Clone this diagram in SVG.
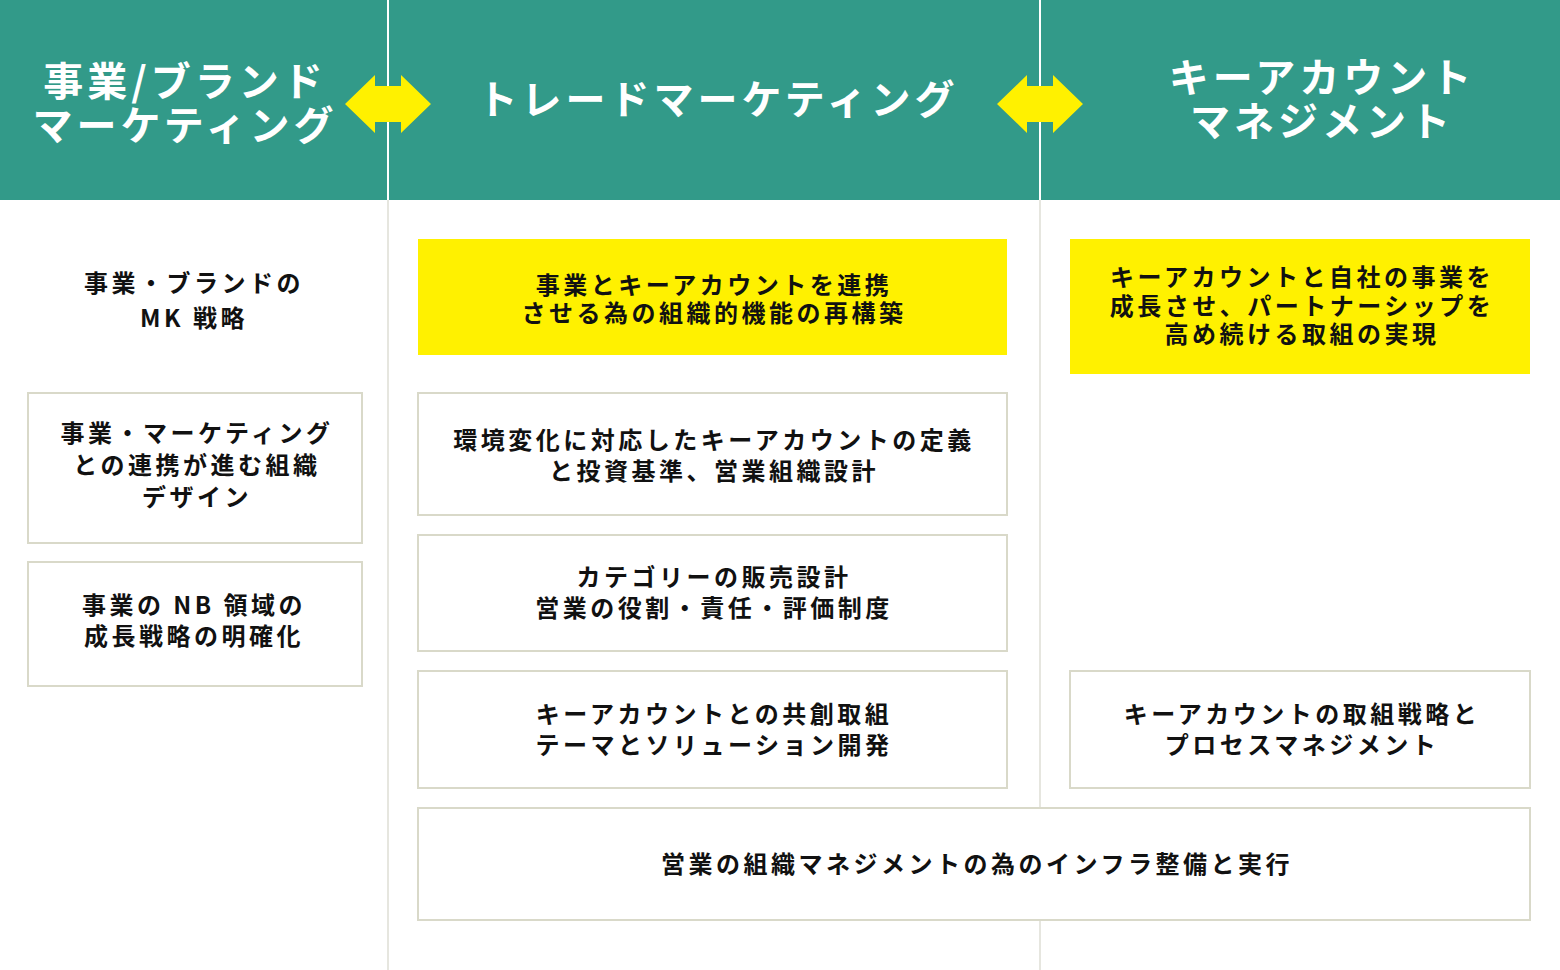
<svg xmlns="http://www.w3.org/2000/svg" width="1560" height="970" viewBox="0 0 1560 970">
<style>
.hd{fill:#329a89}
.hl{stroke:#ffffff;stroke-width:2}
.gl{stroke:#e6e6df;stroke-width:2}
.bx{fill:#ffffff;stroke:#d9d9c9;stroke-width:2}
.yb{fill:#fff100}
.ar{fill:#fff100}
.ht{font-family:"Noto Sans CJK JP","Noto Sans CJK SC",sans-serif;font-weight:bold;font-size:40px;letter-spacing:4px;fill:#ffffff;text-anchor:middle}
.t{font-family:"Noto Sans CJK JP","Noto Sans CJK SC",sans-serif;font-weight:bold;font-size:24px;letter-spacing:3.5px;fill:#111111;text-anchor:middle}
</style>
<rect width="1560" height="970" fill="#ffffff"/>
<g id="header">
<rect class="hd" x="0" y="0" width="1560" height="200"/>
<line class="hl" x1="388" y1="0" x2="388" y2="200"/>
<line class="hl" x1="1040" y1="0" x2="1040" y2="200"/>
</g>
<g id="gridlines">
<line class="gl" x1="388" y1="200" x2="388" y2="970"/>
<line class="gl" x1="1040" y1="200" x2="1040" y2="970"/>
</g>
<g id="col1-title"><text class="ht" x="185" y="96">事業/ブランド</text><text class="ht" x="185" y="140">マーケティング</text></g>
<g id="col2-title"><text class="ht" x="718" y="114">トレードマーケティング</text></g>
<g id="col3-title"><text class="ht" x="1322" y="92">キーアカウント</text><text class="ht" x="1322" y="136">マネジメント</text></g>
<g id="connectors">
<polygon class="ar" points="345,104 375,75 375,86 401,86 401,75 431,104 401,133 401,122 375,122 375,133"/>
<polygon class="ar" points="997,104 1027,75 1027,86 1053,86 1053,75 1083,104 1053,133 1053,122 1027,122 1027,133"/>
</g>
<g id="n1"><text class="t" x="194" y="292">事業・ブランドの</text><text class="t" x="194" y="327">MK 戦略</text></g>
<g id="n2"><rect class="bx" x="28" y="393" width="334" height="150"/><text class="t" x="197" y="442">事業・マーケティング</text><text class="t" x="197" y="474">との連携が進む組織</text><text class="t" x="197" y="506">デザイン</text></g>
<g id="n3"><rect class="bx" x="28" y="562" width="334" height="124"/><text class="t" x="194" y="614">事業の NB 領域の</text><text class="t" x="194" y="645">成長戦略の明確化</text></g>
<g id="n4"><rect class="yb" x="418" y="239" width="589" height="116"/><text class="t" x="714" y="294">事業とキーアカウントを連携</text><text class="t" x="714" y="322">させる為の組織的機能の再構築</text></g>
<g id="n5"><rect class="bx" x="418" y="393" width="589" height="122"/><text class="t" x="714" y="449">環境変化に対応したキーアカウントの定義</text><text class="t" x="714" y="480">と投資基準、営業組織設計</text></g>
<g id="n6"><rect class="bx" x="418" y="535" width="589" height="116"/><text class="t" x="714" y="586">カテゴリーの販売設計</text><text class="t" x="714" y="617">営業の役割・責任・評価制度</text></g>
<g id="n7"><rect class="bx" x="418" y="671" width="589" height="117"/><text class="t" x="714" y="723">キーアカウントとの共創取組</text><text class="t" x="714" y="754">テーマとソリューション開発</text></g>
<g id="n8"><rect class="bx" x="418" y="808" width="1112" height="112"/><text class="t" x="977" y="873">営業の組織マネジメントの為のインフラ整備と実行</text></g>
<g id="n9"><rect class="yb" x="1070" y="239" width="460" height="135"/><text class="t" x="1302" y="286">キーアカウントと自社の事業を</text><text class="t" x="1302" y="315">成長させ、パートナーシップを</text><text class="t" x="1302" y="343">高め続ける取組の実現</text></g>
<g id="n10"><rect class="bx" x="1070" y="671" width="460" height="117"/><text class="t" x="1302" y="723">キーアカウントの取組戦略と</text><text class="t" x="1302" y="754">プロセスマネジメント</text></g>
</svg>
